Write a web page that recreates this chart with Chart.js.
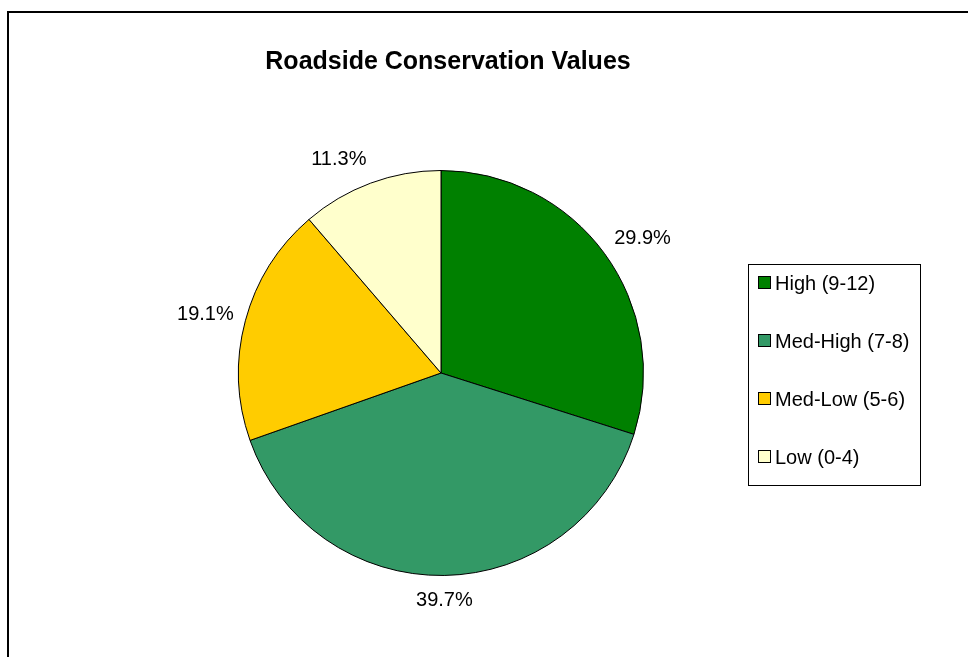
<!DOCTYPE html>
<html>
<head>
<meta charset="utf-8">
<script src="https://cdn.jsdelivr.net/npm/chart.js@4.4.1/dist/chart.umd.min.js"></script>
<style>
    html, body { margin: 0; padding: 0; background: #ffffff; }
    #graficoPie { display: block; }
</style>
</head>
<body>
<canvas id="graficoPie" width="968" height="657"></canvas>
<script>
const categorias = ["High (9-12)", "Med-High (7-8)", "Med-Low (5-6)", "Low (0-4)"];
const porcentajes = [29.9, 39.7, 19.1, 11.3];
const colores = ["#008000", "#339966", "#FFCC00", "#FFFFCC"];
const titulo = "Roadside Conservation Values";

// marco, titulo, etiquetas y leyenda dibujados a mano
const pluginExtras = {
    id: "extras",
    afterDraw(chart) {
        const ctx = chart.ctx;
        ctx.save();

        // marco
        ctx.strokeStyle = "#000000";
        ctx.lineWidth = 2;
        ctx.beginPath();
        ctx.moveTo(8, 657);
        ctx.lineTo(8, 12);
        ctx.lineTo(968, 12);
        ctx.stroke();

        // titulo
        ctx.fillStyle = "#000000";
        ctx.font = "bold 25px 'Liberation Sans', Arial, sans-serif";
        ctx.textAlign = "center";
        ctx.textBaseline = "middle";
        ctx.fillText(titulo, 448, 62);

        // etiquetas de porcentaje
        ctx.font = "20px 'Liberation Sans', Arial, sans-serif";
        const meta = chart.getDatasetMeta(0);
        meta.data.forEach((arco, i) => {
            const p = arco.getProps(["x", "y", "startAngle", "endAngle", "outerRadius"]);
            const medio = (p.startAngle + p.endAngle) / 2;
            const cos = Math.cos(medio);
            const sin = Math.sin(medio);
            const r = p.outerRadius + 12;
            const px = p.x + r * cos;
            const py = p.y + r * sin;
            if (cos > 0.15) ctx.textAlign = "left";
            else if (cos < -0.15) ctx.textAlign = "right";
            else ctx.textAlign = "center";
            ctx.textBaseline = "middle";
            ctx.fillText(porcentajes[i].toFixed(1) + "%", px, py + 13 * sin);
        });

        // leyenda
        ctx.lineWidth = 1;
        ctx.strokeStyle = "#000000";
        ctx.strokeRect(748.5, 264.5, 172, 221);
        ctx.textAlign = "left";
        ctx.textBaseline = "middle";
        categorias.forEach((cat, i) => {
            const y = 283 + i * 58;
            ctx.fillStyle = colores[i];
            ctx.fillRect(758, y - 7, 13, 13);
            ctx.strokeRect(758.5, y - 6.5, 12, 12);
            ctx.fillStyle = "#000000";
            ctx.fillText(cat, 775, y + 1);
        });

        ctx.restore();
    },
};

const dataPie = {
    labels: categorias,
    datasets: [
        {
            data: porcentajes,
            backgroundColor: colores,
            borderColor: "#000000",
            borderWidth: 1,
        },
    ],
};

const configPie = {
    type: "pie",
    data: dataPie,
    options: {
        responsive: false,
        devicePixelRatio: 1,
        animation: false,
        layout: {
            padding: { top: 170, bottom: 81, left: 238, right: 324 },
        },
        elements: {
            arc: { borderJoinStyle: "miter" },
        },
        plugins: {
            legend: { display: false },
            title: { display: false },
            tooltip: { enabled: false },
        },
    },
    plugins: [pluginExtras],
};

const chartPie = new Chart(document.getElementById("graficoPie"), configPie);
</script>
</body>
</html>
